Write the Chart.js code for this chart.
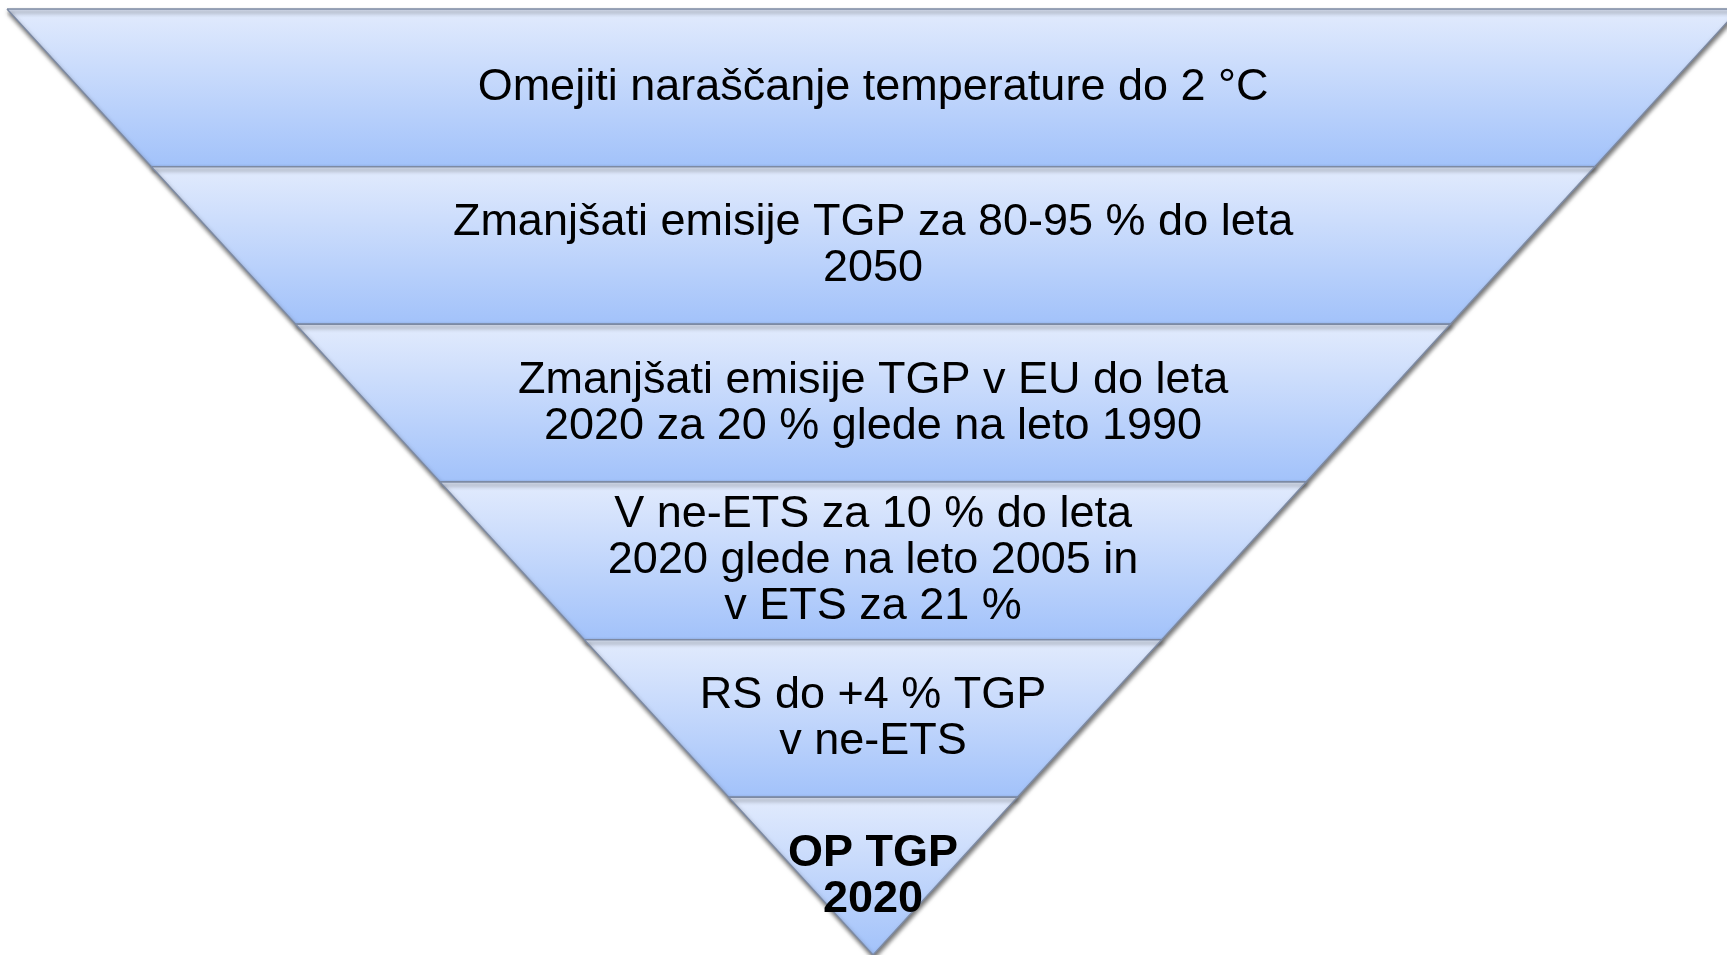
<!DOCTYPE html>
<html>
<head>
<meta charset="utf-8">
<script src="https://cdn.jsdelivr.net/npm/chart.js@4.4.1/dist/chart.umd.min.js"></script>
<style>
  html, body { margin: 0; padding: 0; background: #fff; overflow: hidden; }
  #wrap { width: 1727px; height: 955px; position: relative; }
</style>
</head>
<body>
<div id="wrap"><canvas id="pyramid"></canvas></div>
<script>
// levels of the inverted pyramid, top to bottom
const levels = [
    ['Omejiti naraščanje temperature do 2 °C'],
    ['Zmanjšati emisije TGP za 80-95 % do leta', '2050'],
    ['Zmanjšati emisije TGP v EU do leta', '2020 za 20 % glede na leto 1990'],
    ['V ne-ETS za 10 % do leta', '2020 glede na leto 2005 in', 'v ETS za 21 %'],
    ['RS do +4 % TGP', 'v ne-ETS'],
    ['OP TGP', '2020']
]
// width of each band at its top edge (the last one closes to a point)
const widths = [6, 5, 4, 3, 2, 1]
const boldLevels = [false, false, false, false, false, true]

const colorTop = 'rgb(226, 235, 253)'
const colorBottom = 'rgb(162, 194, 250)'

function bandPoints(i) {
    const top = widths[i] / 2
    const bottom = i + 1 < widths.length ? widths[i + 1] / 2 : 0
    return [
        {x: -top, y: i},
        {x: top, y: i},
        {x: bottom, y: i + 1},
        {x: -bottom, y: i + 1},
        {x: -top, y: i}
    ]
}

function bandGradient(context) {
    const chart = context.chart
    if (!chart.chartArea) return colorBottom
    const y = chart.scales.y
    const i = context.datasetIndex
    const g = chart.ctx.createLinearGradient(0, y.getPixelForValue(i), 0, y.getPixelForValue(i + 1))
    g.addColorStop(0, colorTop)
    g.addColorStop(1, colorBottom)
    return g
}

const datasets = levels.map((lines, i) => ({
    label: lines.join(' '),
    data: bandPoints(i),
    showLine: true,
    fill: 'shape',
    backgroundColor: bandGradient,
    borderColor: '#7d8aa3',
    borderWidth: 1.5,
    pointRadius: 0,
    tension: 0,
    clip: false,
    order: levels.length - i
}))

const shadowAndText = {
    id: 'shadowAndText',
    beforeDatasetsDraw(chart) {
        const ctx = chart.ctx
        ctx.save()
        ctx.shadowColor = 'rgba(0, 0, 0, 0.55)'
        ctx.shadowBlur = 4
        ctx.shadowOffsetX = 1
        ctx.shadowOffsetY = 3
    },
    afterDatasetsDraw(chart) {
        const ctx = chart.ctx
        ctx.restore()
        const xs = chart.scales.x
        const ys = chart.scales.y
        const lineHeight = 46
        ctx.save()
        ctx.fillStyle = '#000'
        ctx.textAlign = 'center'
        ctx.textBaseline = 'middle'
        levels.forEach((lines, i) => {
            ctx.font = (boldLevels[i] ? 'bold ' : '') + '45px "Liberation Sans", Arial, sans-serif'
            const cx = xs.getPixelForValue(0)
            const cy = (ys.getPixelForValue(i) + ys.getPixelForValue(i + 1)) / 2
            const start = cy - (lines.length - 1) * lineHeight / 2
            lines.forEach((t, k) => ctx.fillText(t, cx, start + k * lineHeight))
        })
        ctx.restore()
    }
}

var ctx = document.getElementById('pyramid').getContext('2d')
var pyramid = new Chart(ctx, {
    type: 'scatter',
    data: {datasets: datasets},
    options: {
        responsive: true,
        maintainAspectRatio: false,
        animation: false,
        events: [],
        layout: {padding: {top: 9, left: 7, right: 0, bottom: 0}},
        plugins: {
            legend: {display: false},
            tooltip: {enabled: false}
        },
        scales: {
            x: {type: 'linear', min: -3, max: 2.958, display: false},
            y: {type: 'linear', min: 0, max: 6, reverse: true, display: false}
        }
    },
    plugins: [shadowAndText]
})
</script>
</body>
</html>
